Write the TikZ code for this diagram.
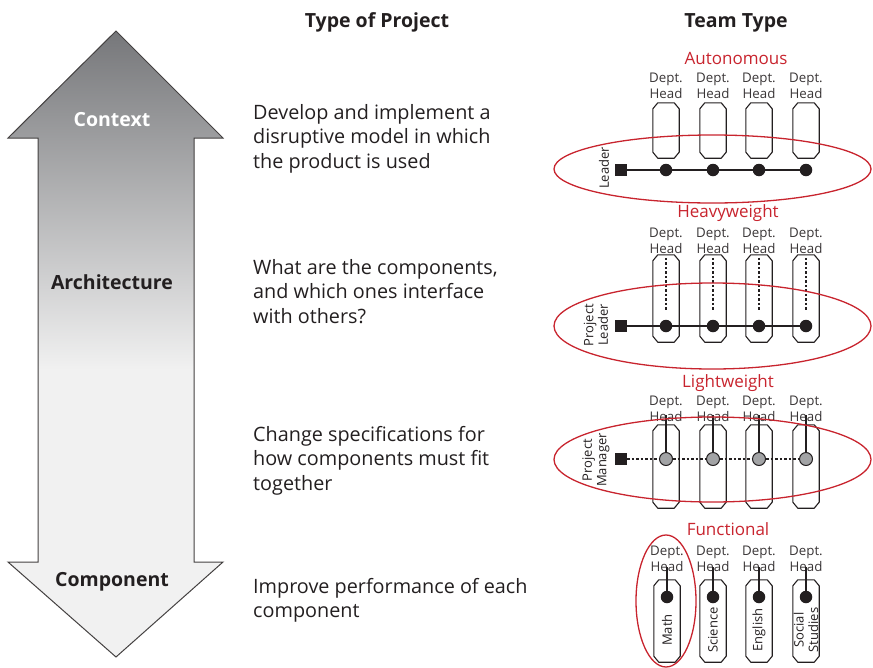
\documentclass[tikz,border=0pt]{standalone}
\usepackage{fontspec}
\setmainfont{Open Sans}
\usetikzlibrary{shapes.geometric}
\definecolor{tred}{HTML}{C8242E}
\definecolor{tdark}{HTML}{231F20}
\definecolor{arrtop}{HTML}{76777A}
\definecolor{arrmid}{HTML}{A7A8AA}
\definecolor{arrlow}{HTML}{F1F1F1}
\definecolor{ldot}{HTML}{A2A3A5}
\tikzset{
  hdr/.style={font=\fontsize{19.5}{23}\selectfont\bfseries, text=tdark, anchor=base, inner sep=0pt},
  desc/.style={font=\fontsize{19.8}{24.7}\selectfont, text=tdark, anchor=base west, align=left, inner sep=0pt},
  arrlabel/.style={font=\fontsize{19.5}{23}\selectfont\bfseries, anchor=base, inner sep=0pt},
  ttitle/.style={font=\fontsize{17}{19}\selectfont, text=tred, anchor=base, inner sep=0pt},
  dhead/.style={font=\fontsize{13.3}{15.8}\selectfont, text=tdark!90, anchor=base, align=center, inner sep=0pt},
  rotlabel/.style={font=\fontsize{13}{14.5}\selectfont, text=tdark, rotate=90, align=center, inner sep=0pt},
  unitbox/.style={rectangle, minimum width=26pt, inner sep=0pt},
  boxline/.style={draw=tdark, line width=1.1pt, line join=miter},
  bdot/.style={circle, fill=tdark, minimum size=12.5pt, inner sep=0pt},
  gdot/.style={circle, fill=ldot, draw=tdark, line width=1pt, minimum size=13pt, inner sep=0pt},
  sq/.style={rectangle, fill=tdark, minimum size=12pt, inner sep=0pt},
  conn/.style={draw=tdark, line width=1.4pt},
  dconn/.style={draw=tdark, line width=1.2pt, dash pattern=on 2.5pt off 2pt},
  redell/.style={ellipse, draw=tred, line width=1.3pt, inner sep=0pt},
}
\newcommand\octbox[1]{\draw[boxline] ([yshift=-6pt]#1.north west) -- ([xshift=5pt]#1.north west) -- ([xshift=-5pt]#1.north east) -- ([yshift=-6pt]#1.north east) -- ([yshift=6pt]#1.south east) -- ([xshift=-5pt]#1.south east) -- ([xshift=5pt]#1.south west) -- ([yshift=6pt]#1.south west) -- cycle;}
\begin{document}
\begin{tikzpicture}[x=1pt,y=-1pt]
\useasboundingbox (0,0) rectangle (873,667);
% ---------- big double arrow ----------
\begin{scope}
\clip (116,31) -- (223,138) -- (194,138) -- (194,562) -- (223,562) -- (116,657) -- (8,562) -- (38,562) -- (38,138) -- (8,138) -- cycle;
\shade[top color=arrtop, middle color=arrmid, bottom color=arrlow] (0,31) rectangle (230,370);
\fill[arrlow] (0,369.5) rectangle (230,660);
\end{scope}
\draw[draw=tdark!85, line width=1pt, line join=miter] (116,31) -- (223,138) -- (194,138) -- (194,562) -- (223,562) -- (116,657) -- (8,562) -- (38,562) -- (38,138) -- (8,138) -- cycle;
\node[arrlabel, text=white] (ctx) at (112,126) {Context};
\node[arrlabel, text=tdark] (arch) at (112,289) {Architecture};
\node[arrlabel, text=tdark] (comp) at (112,586) {Component};
% ---------- headers ----------
\node[hdr] (h1) at (377,27) {Type of Project};
\node[hdr] (h2) at (736,27) {Team Type};
% ---------- descriptions (anchor = baseline of last line) ----------
\node[desc] (d1) at (253,168.4) {Develop and implement a\\disruptive model in which\\the product is used};
\node[desc] (d2) at (253,323.4) {What are the components,\\and which ones interface\\with others?};
\node[desc] (d3) at (253,490.4) {Change specifications for\\how components must fit\\together};
\node[desc] (d4) at (253,617.7) {Improve performance of each\\component};
% ---------- Autonomous ----------
\node[ttitle] (tA) at (736,64) {Autonomous};
\foreach \i/\x in {1/666,2/713,3/759,4/806}{
  \node[dhead] (hA\i) at (\x,98) {Dept.\\Head};
  \node[unitbox, minimum height=55pt] (bA\i) at (\x,130.5) {};
  \octbox{bA\i}
  \node[bdot] (dA\i) at (\x,170) {};
}
\node[sq] (sA) at (621,170) {};
\draw[conn] (sA) -- (dA1) -- (dA2) -- (dA3) -- (dA4);
\node[rotlabel] (lA) at (604,168) {Leader};
\node[redell, minimum width=317pt, minimum height=68pt] (eA) at (712.5,169) {};
% ---------- Heavyweight ----------
\node[ttitle] (tH) at (728,217) {Heavyweight};
\foreach \i/\x in {1/666,2/713,3/759,4/806}{
  \node[dhead] (hH\i) at (\x,253) {Dept.\\Head};
  \node[unitbox, minimum height=87pt] (bH\i) at (\x,298.5) {};
  \octbox{bH\i}
  \node[bdot] (dH\i) at (\x,326) {};
  \draw[dconn, shorten <=3pt, shorten >=10pt] (bH\i.north) -- (dH\i.north);
}
\node[sq] (sH) at (621,326) {};
\draw[conn] (sH) -- (dH1) -- (dH2) -- (dH3) -- (dH4);
\node[rotlabel] (lH) at (596,325) {Project\\Leader};
\node[redell, minimum width=317pt, minimum height=86pt] (eH) at (712.5,326) {};
% ---------- Lightweight ----------
\node[ttitle] (tL) at (728,387) {Lightweight};
\foreach \i/\x in {1/666,2/713,3/759,4/806}{
  \node[dhead] (hL\i) at (\x,421) {Dept.\\Head};
  \node[unitbox, minimum height=83pt] (bL\i) at (\x,466.5) {};
  \octbox{bL\i}
  \node[gdot] (dL\i) at (\x,459) {};
  \coordinate (vL\i) at (\x,415);
  \draw[conn, line width=1.1pt] (vL\i) -- (dL\i);
}
\node[sq] (sL) at (621,459) {};
\draw[dconn] (sL) -- (dL1) -- (dL2) -- (dL3) -- (dL4);
\node[rotlabel] (lL) at (596,460) {Project\\Manager};
\node[redell, minimum width=317pt, minimum height=85pt] (eL) at (712.5,459.5) {};
% ---------- Functional ----------
\node[ttitle] (tF) at (728,535) {Functional};
\foreach \i/\x/\lab in {1/667/Math,2/713/Science,3/759/English,4/806/{Social\\Studies}}{
  \node[dhead] (hF\i) at (\x,571) {Dept.\\Head};
  \node[unitbox, minimum height=82pt] (bF\i) at (\x,621) {};
  \octbox{bF\i}
  \node[bdot] (dF\i) at (\x,597) {};
  \coordinate (vF\i) at (\x,567);
  \draw[conn, line width=1.1pt] (vF\i) -- (dF\i);
  \node[rotlabel] (mF\i) at (\x,630) {\lab};
}
\node[redell, minimum width=60pt, minimum height=132pt] (eF) at (666,601) {};
\end{tikzpicture}
\end{document}
